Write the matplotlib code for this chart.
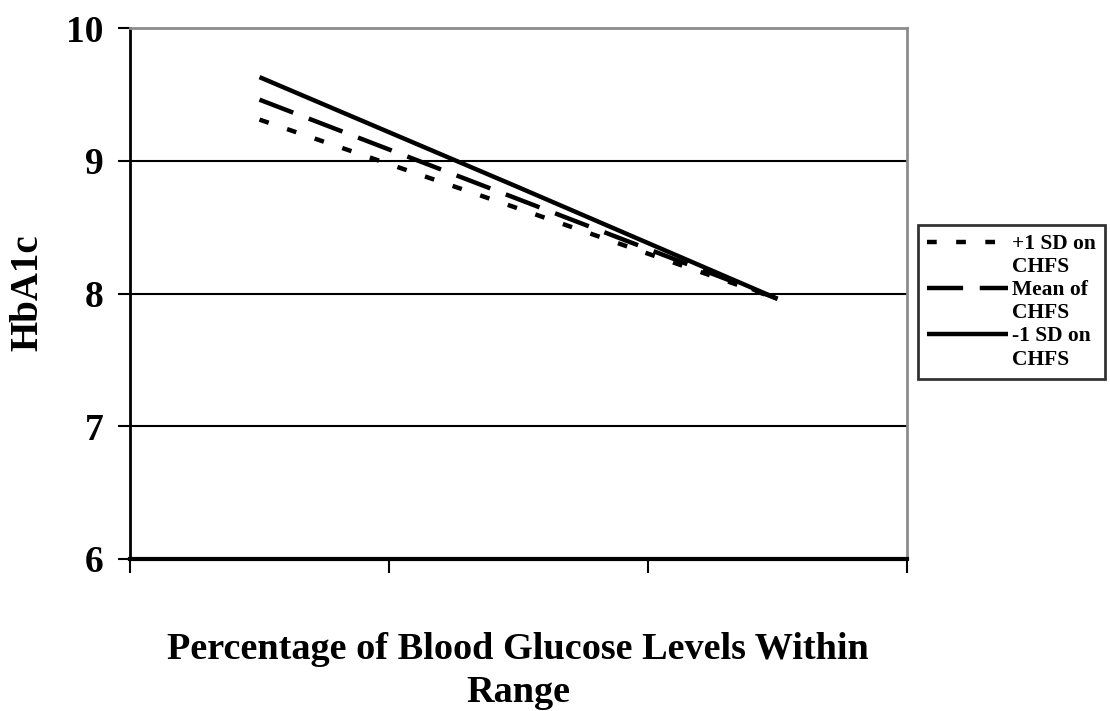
import matplotlib
matplotlib.use("Agg")
import matplotlib.pyplot as plt
from matplotlib.lines import Line2D

categories = ["", "", ""]
series_names = ["+1 SD on\nCHFS", "Mean of\nCHFS", "-1 SD on\nCHFS"]
plus1sd = [9.31, 8.64, 7.96]
mean_vals = [9.46, 8.71, 7.96]
minus1sd = [9.63, 8.80, 7.96]
yticks = [6, 7, 8, 9, 10]

plt.rcParams['font.family'] = ['Liberation Serif', 'DejaVu Serif']
plt.rcParams['font.weight'] = 'bold'
plt.rcParams['lines.scale_dashes'] = False

fig = plt.figure(figsize=(11.1, 7.11), dpi=100)
ax = fig.add_axes([130/1110, 1-559/711, (907-130)/1110, (559-28)/711])

x = list(range(len(categories)))
lw = 3.2
l1, = ax.plot(x, plus1sd, color='black', lw=lw, linestyle=(0, (7, 14)), dash_capstyle='butt', label=series_names[0], zorder=3)
l2, = ax.plot(x, mean_vals, color='black', lw=lw, linestyle=(0, (26, 12)), dash_capstyle='butt', label=series_names[1], zorder=3)
l3, = ax.plot(x, minus1sd, color='black', lw=lw, linestyle='-', solid_capstyle='butt', label=series_names[2], zorder=3)

ax.set_xlim(-0.5, len(categories) - 0.5)
ax.set_ylim(6, 10)
ax.set_yticks(yticks)
ax.set_yticklabels([str(v) for v in yticks], fontsize=27, fontweight='bold')
ax.set_xticks([i - 0.5 for i in range(len(categories) + 1)])
ax.set_xticklabels([])

for yv in yticks[1:-1]:
    ax.axhline(yv, color='black', lw=1.5, zorder=1)

for s in ['top', 'right']:
    ax.spines[s].set_color('#8c8c8c')
    ax.spines[s].set_linewidth(2)
for s in ['left', 'bottom']:
    ax.spines[s].set_color('black')
    ax.spines[s].set_linewidth(2)
ax.spines['bottom'].set_linewidth(3)

ax.tick_params(axis='y', direction='out', length=9, width=1.5, pad=10)
ax.tick_params(axis='x', direction='out', length=10, width=1.5)

fig.text(28/1110, 1-293/711, "HbA1c", rotation=90, ha='center', va='center', fontsize=28, fontweight='bold')
fig.text(518/1110, 1-702/711, "Percentage of Blood Glucose Levels Within\nRange", ha='center', va='baseline', fontsize=27.5, fontweight='bold', linespacing=1.28)

# legend: handle on the first line of each two-line label
blank = Line2D([], [], color='none')
handles = []
labels = []
for h, name in zip([l1, l2, l3], series_names):
    first, second = name.split("\n")
    handles += [h, blank]
    labels += [first, second]

leg = fig.legend(handles=handles, labels=labels, loc='upper left',
                 bbox_to_anchor=(918/1110, 1-225/711), fontsize=15.5, frameon=True,
                 fancybox=False, edgecolor='black', handlelength=3.75, handletextpad=0.2,
                 borderpad=0.42, labelspacing=0.14, borderaxespad=0)
leg.get_frame().set_linewidth(2)
for t in leg.get_texts():
    t.set_fontweight('bold')

fig.savefig("out.png", dpi=100, facecolor='white')
